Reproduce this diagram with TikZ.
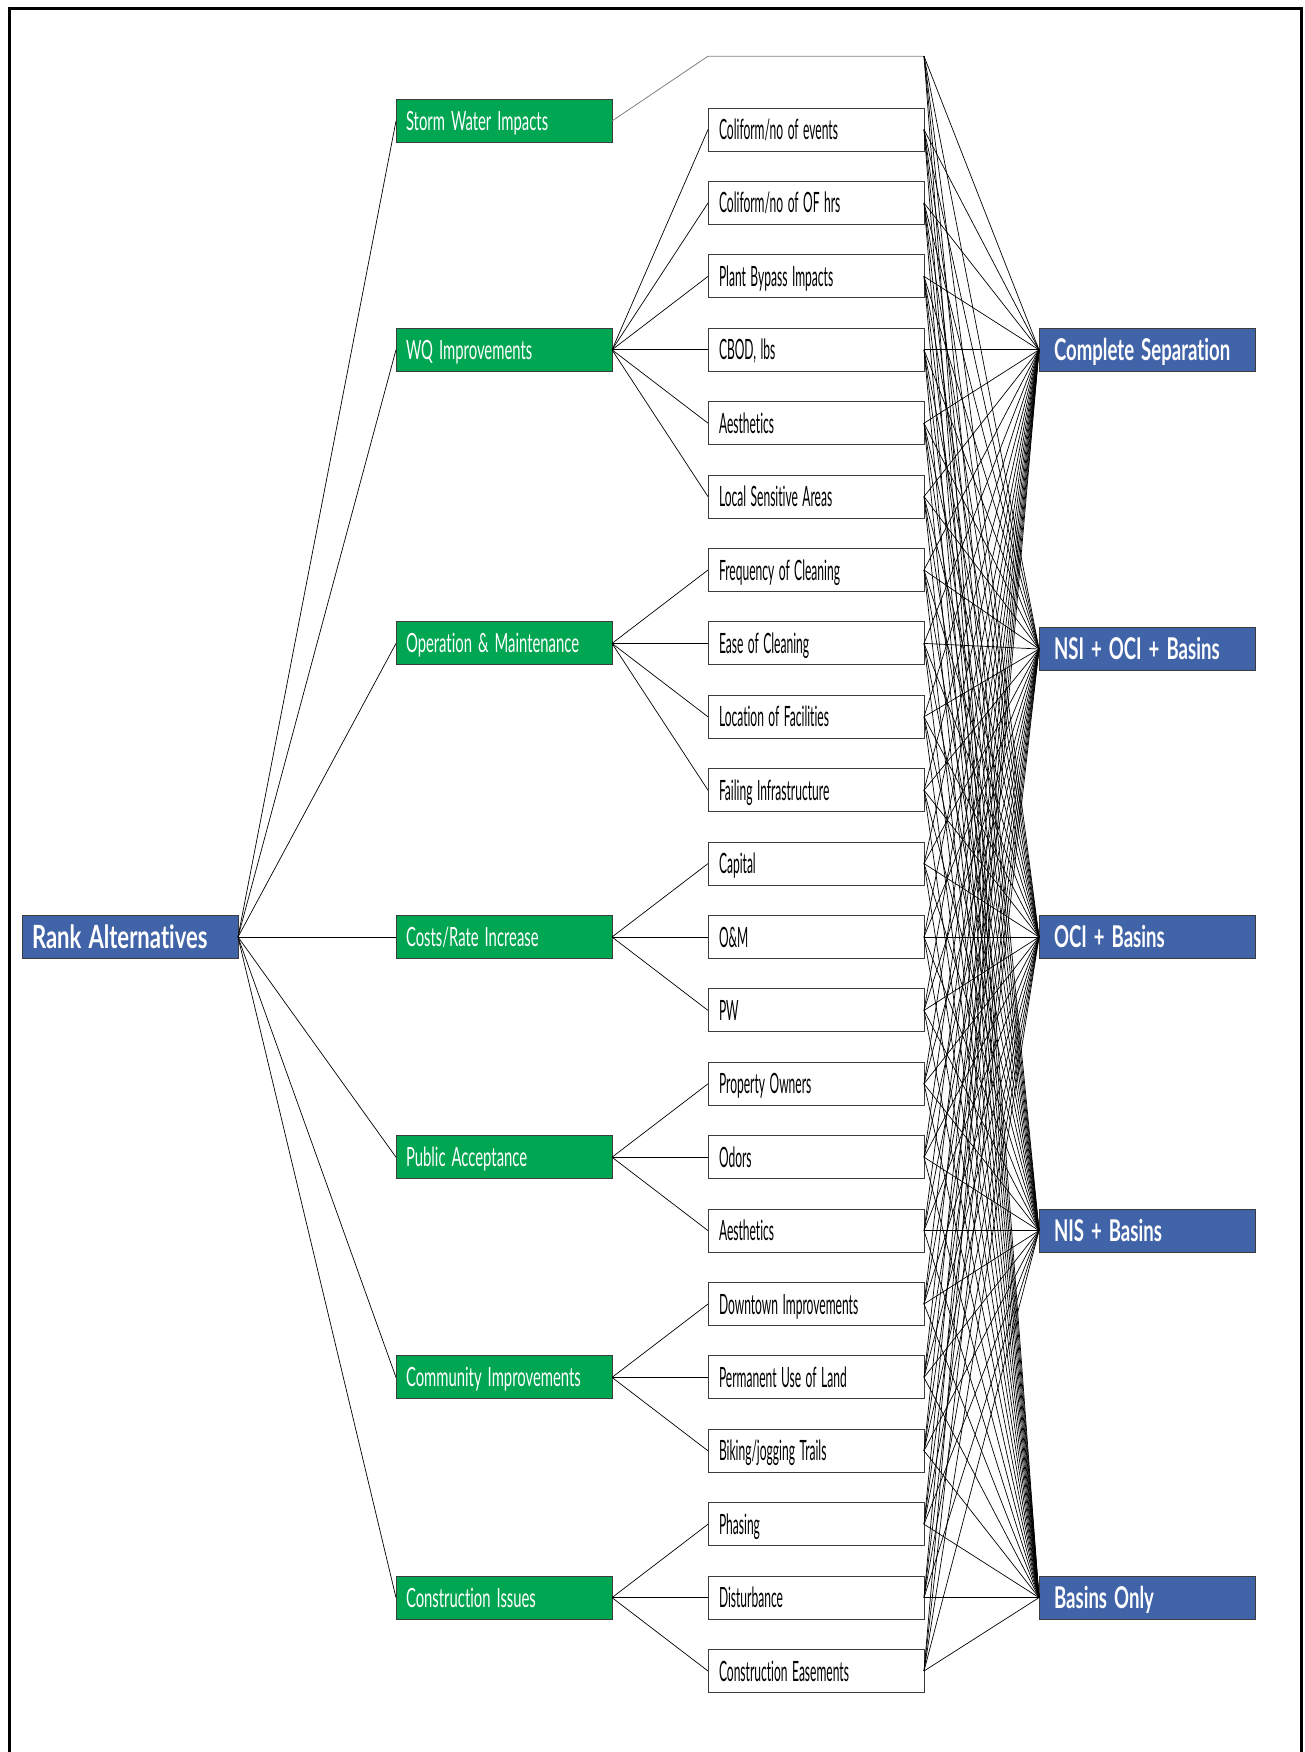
\documentclass[tikz,border=0pt]{standalone}
\usepackage{fontspec}
\setmainfont{Lato}
\newfontfamily\subfont[FakeStretch=0.43, Ligatures=NoCommon]{Lato}
\newfontfamily\critfont[FakeStretch=0.56, Ligatures=NoCommon]{Lato}
\newfontfamily\altfont[FakeStretch=0.62, Ligatures=NoCommon]{Lato}
\newfontfamily\rootfont[FakeStretch=0.69, Ligatures=NoCommon]{Lato}
\usetikzlibrary{positioning}
\definecolor{critgreen}{RGB}{0,166,81}
\definecolor{altblue}{RGB}{65,99,167}
\definecolor{boxgrey}{RGB}{60,60,60}
\tikzset{
  base/.style={draw=boxgrey, line width=0.9pt, minimum height=43pt, outer sep=0pt,
               inner ysep=0pt, align=left, text depth=0pt},
  sub/.style={base, fill=white, inner xsep=11pt, text width=194pt,
              text height=20pt, font=\subfont\fontsize{28}{30}\selectfont,
              execute at begin node={\spaceskip=4.5pt\relax}},
  crit/.style={base, fill=critgreen, text=white, inner xsep=10pt, text width=196pt,
               text height=19pt, font=\critfont\fontsize{26.5}{28}\selectfont,
               execute at begin node={\spaceskip=6pt\relax}},
  alt/.style={base, fill=altblue, text=white, inner xsep=15pt, text width=186pt,
              text height=21.5pt, font=\altfont\bfseries\fontsize{30}{32}\selectfont,
              execute at begin node={\spaceskip=7pt\relax}},
  root/.style={alt, inner xsep=10pt, text width=196pt,
               text height=23pt, font=\rootfont\bfseries\fontsize{32}{34}\selectfont},
  ln/.style={draw=black, line width=0.7pt},
  lng/.style={draw=gray, line width=0.8pt},
}

\begin{document}
\begin{tikzpicture}[node distance=30.4pt and 96pt]
\useasboundingbox (0,0) rectangle (1305pt,-1752pt);
\draw[line width=3pt] (9pt,-1752pt) -- (9pt,-9pt) -- (1301pt,-9pt) -- (1301pt,-1752pt);

% sub-criteria column
\node[sub, draw=none, fill=none] (s0) at (816pt,-56.2pt) {};
\foreach \txt [count=\i, remember=\i as \j (initially 0)] in
  {Coliform/no of events, Coliform/no of OF hrs, Plant Bypass Impacts, {CBOD, lbs},
   Aesthetics, Local Sensitive Areas, Frequency of Cleaning, Ease of Cleaning,
   Location of Facilities, Failing Infrastructure, Capital, O\&M, PW,
   Property Owners, Odors, Aesthetics, Downtown Improvements,
   Permanent Use of Land, Biking/jogging Trails, Phasing, Disturbance,
   Construction Easements}
  \node[sub, below=of s\j] (s\i) {\txt};

% criteria
\node[crit, left=of s1, yshift=8.6pt] (c1) {Storm Water Impacts};
\node[crit, left=of s4] (c2) {WQ Improvements};
\node[crit, left=of s8] (c3) {Operation \& Maintenance};
\node[crit, left=of s12] (c4) {Costs/Rate Increase};
\node[crit, left=of s15] (c5) {Public Acceptance};
\node[crit, left=of s18] (c6) {Community Improvements};
\node[crit, left=of s21] (c7) {Construction Issues};
\node[root, left=158pt of c4] (rank) {Rank Alternatives};

% alternatives
\node[alt, right=115pt of s4] (a1) {Complete Separation};
\node[alt, right=115pt of s8, yshift=-5.6pt] (a2) {NSI + OCI + Basins};
\node[alt, right=115pt of s12] (a3) {OCI + Basins};
\node[alt, right=115pt of s16] (a4) {NIS + Basins};
\node[alt, right=115pt of s21] (a5) {Basins Only};

\foreach \k in {1,...,7}
  \draw[ln] (rank.east) -- (c\k.west);
\draw[lng] (c1.east) -- (s0.west) -- (s0.east);
\foreach \c/\first/\last in {2/1/6, 3/7/10, 4/11/13, 5/14/16, 6/17/19, 7/20/22}
  \foreach \i in {\first,...,\last}
    \draw[ln] (c\c.east) -- (s\i.west);
\foreach \i in {0,...,22}
  \foreach \a in {1,...,5}
    \draw[ln] (s\i.east) -- (a\a.west);
\end{tikzpicture}
\end{document}
